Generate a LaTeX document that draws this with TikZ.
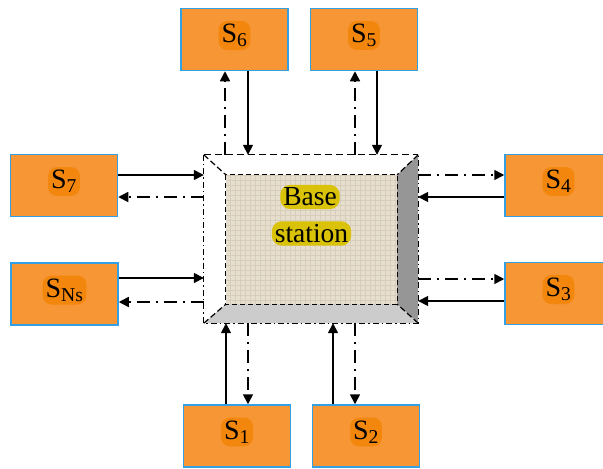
\documentclass[tikz,border=0pt]{standalone}
\usepackage{fontspec}
\setmainfont{Liberation Serif}
\usetikzlibrary{arrows.meta}

\definecolor{sorange}{RGB}{247,150,52}
\definecolor{sblob}{RGB}{243,134,12}
\definecolor{sblue}{RGB}{52,160,228}
\definecolor{sand}{RGB}{230,222,207}
\definecolor{sandline}{RGB}{216,205,184}
\definecolor{hlyellow}{RGB}{218,194,8}
\definecolor{darkside}{RGB}{150,150,150}
\definecolor{lightside}{RGB}{204,204,204}

\begin{document}
\begin{tikzpicture}[x=1pt, y=-1pt,
    sbox/.style={rectangle, draw=sblue, fill=sorange, line width=1.5pt,
        minimum width=107pt, minimum height=62pt, inner sep=0pt},
    blob/.style={fill=sblob, rounded corners=9pt, inner sep=3pt, yshift=4pt,
        font=\fontsize{28}{29}\selectfont},
    hl/.style={fill=hlyellow, rounded corners=10pt, inner sep=3pt,
        font=\fontsize{27.5}{30}\selectfont},
    solid arrow/.style={line width=1.6pt, -{Triangle[length=10pt,width=10pt]}},
    dd arrow/.style={line width=1.6pt, dash pattern=on 13pt off 6pt on 2pt off 6pt,
        -{Triangle[length=10pt,width=10pt]}},
    edge line/.style={line width=1.2pt}]

    \clip (0,0) rectangle (603,469);

    % base station
    \node[rectangle, minimum width=214pt, minimum height=168pt, inner sep=0pt] (bs) at (311,239) {};
    \node[rectangle, minimum width=171pt, minimum height=129pt, inner sep=0pt, fill=sand] (core) at (311.5,239.5) {};

    \begin{scope}
        \clip (core.north west) rectangle (core.south east);
        \draw[sandline, line width=0.6pt, step=5pt] (core.north west) grid (core.south east);
    \end{scope}

    \fill[darkside] (core.north east) -- (bs.north east) -- (bs.south east) -- (core.south east) -- cycle;
    \fill[lightside] (core.south west) -- (core.south east) -- (bs.south east) -- (bs.south west) -- cycle;

    \draw[edge line, dash pattern=on 5pt off 3pt] (core.north west) rectangle (core.south east);
    \draw[edge line, dash pattern=on 7pt off 4pt] (bs.north west) -- (bs.north east);
    \draw[edge line, dash pattern=on 6pt off 3pt on 1.5pt off 3pt] (bs.north west) -- (bs.south west) -- (bs.south east) -- (bs.north east);
    \draw[edge line, dash pattern=on 6pt off 3pt] (bs.north west) -- (core.north west);
    \draw[edge line, dash pattern=on 6pt off 3pt] (bs.north east) -- (core.north east);
    \draw[edge line, dash pattern=on 6pt off 3pt] (bs.south west) -- (core.south west);
    \draw[edge line, dash pattern=on 6pt off 3pt] (bs.south east) -- (core.south east);

    \node[hl] (base) at (310,197) {Base};
    \node[hl] (station) at (311.5,233.5) {station};

    % sensors
    \node[sbox, label={[blob]center:S\textsubscript{6}}] (s6) at (234.5,39.5) {};
    \node[sbox, label={[blob]center:S\textsubscript{5}}] (s5) at (364,39.5) {};
    \node[sbox, label={[blob]center:S\textsubscript{7}}] (s7) at (64,185.5) {};
    \node[sbox, label={[blob]center:S\textsubscript{Ns}}] (sns) at (64.5,294) {};
    \node[sbox, label={[blob]center:S\textsubscript{4}}] (s4) at (558.5,185.5) {};
    \node[sbox, label={[blob]center:S\textsubscript{3}}] (s3) at (558.5,293.5) {};
    \node[sbox, label={[blob]center:S\textsubscript{1}}] (s1) at (237,436) {};
    \node[sbox, label={[blob]center:S\textsubscript{2}}] (s2) at (366,436) {};

    % links
    \draw[dd arrow] ([xshift=-9.5pt]s6.south |- bs.north) -- ([xshift=-9.5pt]s6.south); % up to S6
    \draw[solid arrow] ([xshift=13.5pt]s6.south) -- ([xshift=13.5pt]s6.south |- bs.north); % S6 down
    \draw[dd arrow] ([xshift=-9pt]s5.south |- bs.north) -- ([xshift=-9pt]s5.south);
    \draw[solid arrow] ([xshift=13pt]s5.south) -- ([xshift=13pt]s5.south |- bs.north);

    \draw[solid arrow] ([yshift=10.5pt]s7.east) -- ([yshift=10.5pt]s7.east -| bs.west);
    \draw[dd arrow] ([yshift=-11.5pt]s7.east -| bs.west) -- ([yshift=-11.5pt]s7.east);
    \draw[solid arrow] ([yshift=16pt]sns.east) -- ([yshift=16pt]sns.east -| bs.west);
    \draw[dd arrow] ([yshift=-8pt]sns.east -| bs.west) -- ([yshift=-8pt]sns.east);

    \draw[dd arrow] ([yshift=10.5pt]s4.west -| bs.east) -- ([yshift=10.5pt]s4.west);
    \draw[solid arrow] ([yshift=-11.5pt]s4.west) -- ([yshift=-11.5pt]s4.west -| bs.east);
    \draw[dd arrow] ([yshift=14.5pt]s3.west -| bs.east) -- ([yshift=14.5pt]s3.west);
    \draw[solid arrow] ([yshift=-7.5pt]s3.west) -- ([yshift=-7.5pt]s3.west -| bs.east);

    \draw[solid arrow] ([xshift=-11pt]s1.north) -- ([xshift=-11pt]s1.north |- bs.south);
    \draw[dd arrow] ([xshift=11pt]s1.north |- bs.south) -- ([xshift=11pt]s1.north);
    \draw[solid arrow] ([xshift=-33pt]s2.north) -- ([xshift=-33pt]s2.north |- bs.south);
    \draw[dd arrow] ([xshift=-11pt]s2.north |- bs.south) -- ([xshift=-11pt]s2.north);
\end{tikzpicture}
\end{document}
